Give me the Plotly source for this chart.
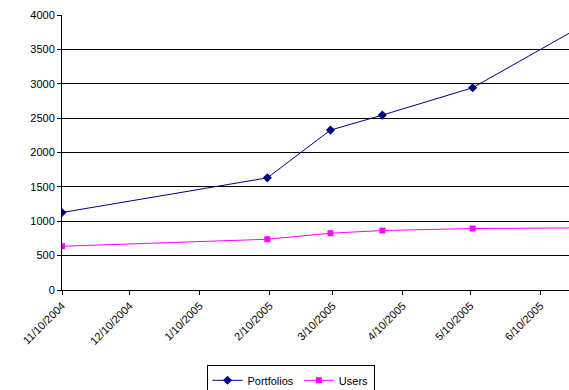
import plotly.graph_objects as go

dates = ["2004-11-10", "2005-02-09", "2005-03-09", "2005-04-01", "2005-05-11", "2005-07-01"]
portfolios = [1127, 1631, 2326, 2544, 2942, 3887]
users = [636, 738, 826, 865, 894, 905]

tick_font = dict(family="Liberation Sans, Arial, sans-serif", size=11, color="black")

fig = go.Figure()
fig.add_trace(go.Scatter(
    x=dates, y=portfolios, name="Portfolios", mode="lines+markers",
    line=dict(color="#000080", width=1),
    marker=dict(symbol="diamond", size=7, color="#000080"),
))
fig.add_trace(go.Scatter(
    x=dates, y=users, name="Users", mode="lines+markers",
    line=dict(color="#FF00FF", width=1),
    marker=dict(symbol="square", size=6, color="#FF00FF"),
))

fig.update_layout(
    width=569, height=390,
    margin=dict(l=62, r=0, t=15, b=100, autoexpand=False),
    paper_bgcolor="white", plot_bgcolor="white",
    font=tick_font,
    showlegend=True,
    legend=dict(
        orientation="h", x=0.4507, xanchor="center", y=-0.272, yanchor="top",
        bordercolor="black", borderwidth=1, bgcolor="white",
        font=dict(family="Liberation Sans, Arial, sans-serif", size=11, color="black"),
        itemwidth=30, tracegroupgap=0,
    ),
    xaxis=dict(
        type="date", automargin=False,
        range=["2004-11-10", "2005-06-22 17:00"],
        tick0="2004-11-10", dtick="M1",
        tickformat="%-m/%-d/%Y",
        tickangle=-45,
        ticks="outside", ticklen=4, tickcolor="black",
        showline=True, linecolor="black", linewidth=1,
        showgrid=False, zeroline=False,
        tickfont=tick_font,
    ),
    yaxis=dict(
        range=[0, 4000], dtick=500, automargin=False,
        ticks="outside", ticklen=4, tickcolor="black",
        showline=True, linecolor="black", linewidth=1,
        showgrid=True, gridcolor="black", gridwidth=1,
        zeroline=False,
        tickfont=tick_font,
    ),
)

fig.write_html("out.html")
